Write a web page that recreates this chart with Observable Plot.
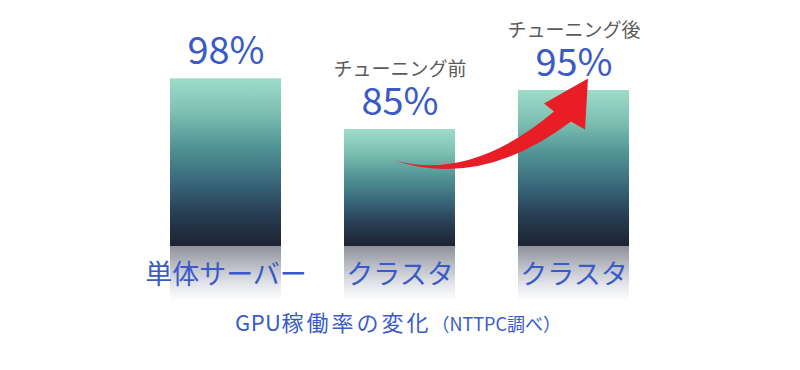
<!DOCTYPE html>
<html>
<head>
<meta charset="utf-8">
<script src="https://cdn.jsdelivr.net/npm/d3@7"></script>
<script src="https://cdn.jsdelivr.net/npm/@observablehq/plot@0.6"></script>
<style>
  body { margin: 0; background: #fff; font-family: "Noto Sans CJK JP", sans-serif; position: relative; width: 800px; height: 370px; overflow: hidden; }
  #caption { position: absolute; top: 310px; left: 0; width: 796px; text-align: center; color: #3a5bc7; font-size: 22px; line-height: 22px; white-space: nowrap; }
  #caption .lat { letter-spacing: 0.5px; }
  #caption .cjk { letter-spacing: 3px; }
  #caption .note { font-size: 18px; letter-spacing: 0; }
</style>
</head>
<body>
<div id="chart"></div>
<div id="caption"></div>
<script>
// ---- data ----
const keys = ["single", "before", "after"];
const labels = ["単体サーバー", "クラスタ", "クラスタ"];
const values = [98, 85, 95];
const notes = ["", "チューニング前", "チューニング後"];
const captionLatin = "GPU";
const captionMain = "稼働率の変化";
const captionNote = "（NTTPC調べ）";
const arrowFrom = { key: "before", value: 77 };

const blue = "#3a5bc7";
const data = keys.map((k, i) => ({ key: k, label: labels[i], value: values[i], note: notes[i] }));
const yMin = 55, yMax = 100;
const reflectDepth = 14; // in value units below the baseline

function bandwidthOf(x) {
  return typeof x.bandwidth === "function" ? x.bandwidth() : x.bandwidth;
}

// gradient definitions
function defsMark() {
  const defs = d3.create("svg:defs");
  const g1 = defs.append("linearGradient").attr("id", "barGrad").attr("x1", 0).attr("y1", 0).attr("x2", 0).attr("y2", 1);
  [[0, "#9edcca"], [0.2, "#7dc0b2"], [0.42, "#4f9192"], [0.6, "#3a6b7d"], [0.8, "#283f55"], [1, "#1c2231"]]
    .forEach(([o, c]) => g1.append("stop").attr("offset", o).attr("stop-color", c));
  const g2 = defs.append("linearGradient").attr("id", "reflGrad").attr("x1", 0).attr("y1", 0).attr("x2", 0).attr("y2", 1);
  [[0, "#8e9199"], [0.35, "#b9bcc4"], [0.7, "#e3e5ea"], [1, "#ffffff"]]
    .forEach(([o, c]) => g2.append("stop").attr("offset", o).attr("stop-color", c));
  return defs.node();
}

// curved red arrow from the "before" bar toward the "after" bar
function arrowMark(index, scales) {
  const bw = bandwidthOf(scales.x);
  const tx = scales.x(arrowFrom.key) + bw / 2 - 6;
  const ty = scales.y(arrowFrom.value);
  const p = (dx, dy) => `${tx + dx},${ty + dy}`;
  const d = `M${p(0, 0)} Q${p(77.5, 21.3)} ${p(160.5, -48.7)} L${p(150.5, -56.7)} L${p(194.5, -81.7)} L${p(191.5, -30.7)} L${p(177.5, -38.7)} Q${p(87.5, 29.3)} ${p(0, 0)} Z`;
  return d3.create("svg:path").attr("d", d).attr("fill", "#e81d25").node();
}

const plot = Plot.plot({
  width: 800,
  height: 305,
  marginLeft: 107,
  marginRight: 108,
  marginTop: 70.5,
  marginBottom: 59,
  x: { domain: keys, padding: 0.362, label: null },
  y: { domain: [yMin, yMax], axis: null },
  style: { fontFamily: '"Noto Sans CJK JP", sans-serif', background: "white", overflow: "visible" },
  marks: [
    defsMark,
    Plot.barY(data, { x: "key", y1: yMin, y2: yMin - reflectDepth, fill: "url(#reflGrad)" }),
    Plot.barY(data, { x: "key", y1: yMin, y2: "value", fill: "url(#barGrad)" }),
    Plot.axisX({ tickSize: 0, tickPadding: 18, fontSize: 27, fill: blue, label: null, tickFormat: k => labels[keys.indexOf(k)] }),
    arrowMark,
    Plot.text(data, { x: "key", y: "value", text: d => d.value + "%", dy: -15, lineAnchor: "bottom", fontSize: 38, fill: blue }),
    Plot.text(data.filter(d => d.note), { x: "key", y: "value", text: "note", dy: -54, lineAnchor: "bottom", fontSize: 19, fill: "#5a5a5a" })
  ]
});
document.getElementById("chart").appendChild(plot);

const cap = document.getElementById("caption");
[[captionLatin, "lat"], [captionMain, "cjk"], [captionNote, "note"]].forEach(([t, c]) => {
  const s = document.createElement("span");
  s.className = c;
  s.textContent = t;
  cap.appendChild(s);
});
</script>
</body>
</html>
